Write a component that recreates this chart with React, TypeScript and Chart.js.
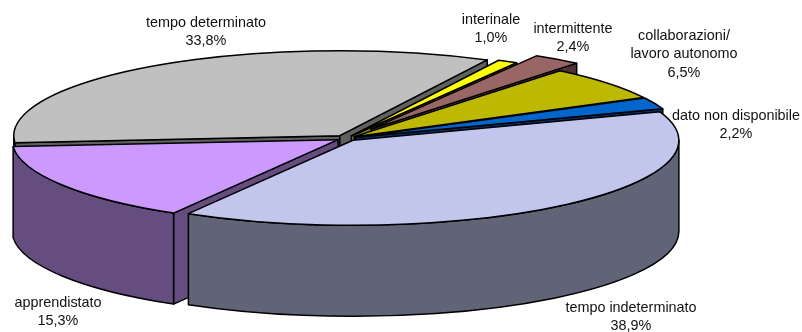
import { useEffect, useRef } from "react";
import { Chart, registerables } from "chart.js";

Chart.register(...registerables);

const categories = [
  "tempo indeterminato",
  "apprendistato",
  "tempo determinato",
  "interinale",
  "intermittente",
  "collaborazioni/\nlavoro autonomo",
  "dato non disponibile",
];
const shares = [38.9, 15.3, 33.8, 1.0, 2.4, 6.5, 2.2];
const topColors = ["#C2C5EC", "#CC99FF", "#C0C0C0", "#FFFF00", "#996666", "#BDB800", "#0066CC"];
const explosion = [10, 10, 12, 10, 43, 10, 10];
// Slices are painted from the back of the disc to the front.
const paintOrder = [2, 3, 4, 5, 6, 1, 0];
// Centre x and first-line centre y of each slice caption.
const captionAnchors = [
  [631, 308],
  [58, 303],
  [206, 23],
  [491, 20],
  [573, 29],
  [684, 36],
  [736, 116],
];

const TILT = 0.2607;
const DEPTH = 91;
const LINE_HEIGHT = 18.4;

function halve(hex: string) {
  const n = parseInt(hex.slice(1), 16);
  const c = [(n >> 16) & 255, (n >> 8) & 255, n & 255].map((v) => Math.round(v / 2));
  return `rgb(${c[0]},${c[1]},${c[2]})`;
}

const pie3d = {
  id: "pie3d",
  beforeDatasetsDraw(chart: any) {
    const ctx: CanvasRenderingContext2D = chart.ctx;
    const arcs = chart.getDatasetMeta(0).data;
    ctx.save();
    ctx.lineJoin = "round";
    for (const i of paintOrder) {
      const arc = arcs[i];
      const { startAngle: a, endAngle: b, outerRadius: rx, options } = arc;
      const mid = (a + b) / 2;
      const cx = arc.x + Math.cos(mid) * options.offset;
      const cy = arc.y + Math.sin(mid) * options.offset * TILT;
      const ry = rx * TILT;
      const rimX = (t: number) => cx + Math.cos(t) * rx;
      const rimY = (t: number) => cy + Math.sin(t) * ry;
      ctx.strokeStyle = options.borderColor;
      ctx.lineWidth = options.borderWidth;
      ctx.fillStyle = halve(options.backgroundColor);

      // Radial cut faces that turn towards the viewer
      const cuts = [
        { t: a, visible: Math.cos(a) < 0 },
        { t: b, visible: Math.cos(b) > 0 },
      ];
      for (const { t, visible } of cuts) {
        if (!visible) continue;
        ctx.beginPath();
        ctx.moveTo(cx, cy);
        ctx.lineTo(rimX(t), rimY(t));
        ctx.lineTo(rimX(t), rimY(t) + DEPTH);
        ctx.lineTo(cx, cy + DEPTH);
        ctx.closePath();
        ctx.fill();
        ctx.stroke();
      }

      // Outer wall, only where the rim faces the viewer
      const from = Math.max(a, 0);
      const to = Math.min(b, Math.PI);
      if (to > from) {
        ctx.beginPath();
        ctx.ellipse(cx, cy, rx, ry, 0, from, to);
        ctx.lineTo(rimX(to), rimY(to) + DEPTH);
        ctx.ellipse(cx, cy + DEPTH, rx, ry, 0, to, from, true);
        ctx.closePath();
        ctx.fill();
        ctx.stroke();
      }

      // Top face
      ctx.fillStyle = options.backgroundColor;
      ctx.beginPath();
      ctx.moveTo(cx, cy);
      ctx.ellipse(cx, cy, rx, ry, 0, a, b);
      ctx.closePath();
      ctx.fill();
      ctx.stroke();
    }
    ctx.restore();
    return false;
  },
  afterDraw(chart: any) {
    const ctx: CanvasRenderingContext2D = chart.ctx;
    ctx.save();
    ctx.font = '14.4px "Liberation Sans"';
    ctx.fillStyle = "#111";
    ctx.textAlign = "center";
    ctx.textBaseline = "middle";
    categories.forEach((name, i) => {
      const lines = [...name.split("\n"), shares[i].toFixed(1).replace(".", ",") + "%"];
      const [x, y] = captionAnchors[i];
      lines.forEach((line, k) => ctx.fillText(line, x, y + k * LINE_HEIGHT));
    });
    ctx.restore();
  },
};

export default function App() {
  const ref = useRef<HTMLCanvasElement>(null);
  useEffect(() => {
    const chart = new Chart(ref.current!, {
      type: "pie",
      data: {
        labels: categories,
        datasets: [
          {
            data: shares,
            backgroundColor: topColors,
            offset: explosion,
            borderColor: "#000",
            borderWidth: 1.5,
          },
        ],
      },
      options: {
        responsive: false,
        animation: false,
        rotation: 70.4,
        radius: 326,
        layout: { padding: { right: 109, bottom: 55.4 } },
        plugins: { legend: { display: false }, tooltip: { enabled: false } },
      },
      plugins: [pie3d],
    } as any);
    return () => chart.destroy();
  }, []);
  return (
    <canvas
      ref={ref}
      width={802}
      height={332}
      style={{ position: "fixed", left: 0, top: 0, width: 802, height: 332, background: "#fff" }}
    />
  );
}
